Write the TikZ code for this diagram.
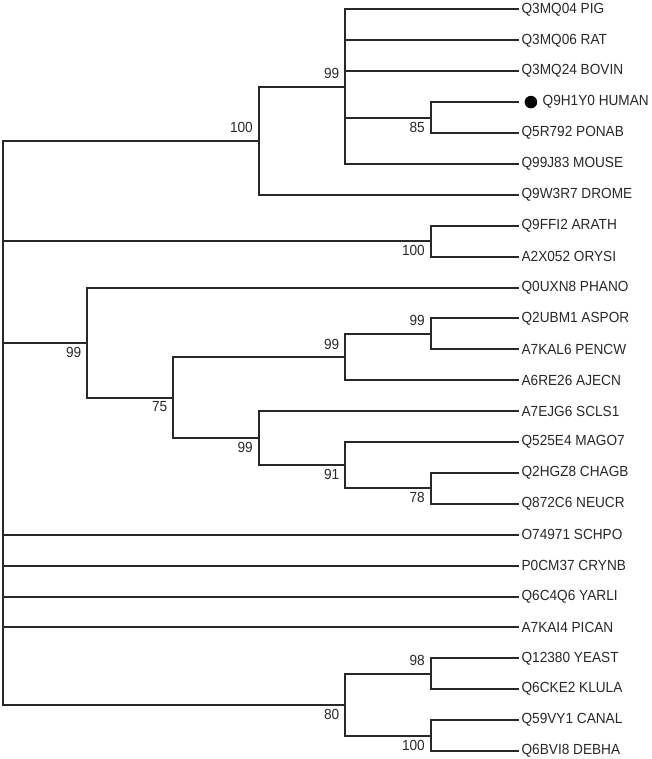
\documentclass[tikz,border=0pt]{standalone}
\usepackage{fontspec}
\setmainfont{Liberation Sans}[FakeStretch=0.93]
\usepackage{xcolor}
\usepackage{tikz}
\usetikzlibrary{positioning}
\definecolor{treeink}{RGB}{40, 40, 40}
\tikzset{
    br/.style  ={draw=treeink, line width=1.5pt, line cap=rect},
    tip/.style ={anchor=west, inner xsep=2.5pt, inner ysep=0pt,
                 font=\fontsize{11pt}{13pt}\selectfont, text=treeink},
    bsa/.style ={anchor=base east, inner sep=0pt, xshift=-4.1pt, yshift=6pt,
                 font=\fontsize{11pt}{13pt}\selectfont, text=treeink},
    bsb/.style ={anchor=north east, inner sep=0pt, xshift=-4.1pt, yshift=-3pt,
                 font=\fontsize{11pt}{13pt}\selectfont, text=treeink},
    dot/.style ={circle, fill=black, inner sep=0pt, minimum size=9.4pt}
}

\begin{document}
\begin{tikzpicture}[x=0.75pt, y=-0.75pt]
  \useasboundingbox (0,0) rectangle (652,759);

  % leaves
  \node[tip] (pig)   at (518,   9.4) {Q3MQ04 PIG};
  \node[tip] (rat)   at (518,  40.3) {Q3MQ06 RAT};
  \node[tip] (bovin) at (518,  71.2) {Q3MQ24 BOVIN};
  \coordinate (human) at (518, 102.1);
  \node[dot, right=4.8pt of human] (hdot) {};
  \node[tip, right=1.2pt of hdot] (humanlbl) {Q9H1Y0 HUMAN};
  \node[tip] (ponab) at (518, 133.0) {Q5R792 PONAB};
  \node[tip] (mouse) at (518, 163.9) {Q99J83 MOUSE};
  \node[tip] (drome) at (518, 194.8) {Q9W3R7 DROME};
  \node[tip] (arath) at (518, 225.7) {Q9FFI2 ARATH};
  \node[tip] (orysi) at (518, 256.6) {A2X052 ORYSI};
  \node[tip] (phano) at (518, 287.5) {Q0UXN8 PHANO};
  \node[tip] (aspor) at (518, 318.4) {Q2UBM1 ASPOR};
  \node[tip] (pencw) at (518, 349.3) {A7KAL6 PENCW};
  \node[tip] (ajecn) at (518, 380.2) {A6RE26 AJECN};
  \node[tip] (scls)  at (518, 411.1) {A7EJG6 SCLS1};
  \node[tip] (mago)  at (518, 442.0) {Q525E4 MAGO7};
  \node[tip] (chagb) at (518, 472.9) {Q2HGZ8 CHAGB};
  \node[tip] (neucr) at (518, 503.8) {Q872C6 NEUCR};
  \node[tip] (schpo) at (518, 534.7) {O74971 SCHPO};
  \node[tip] (crynb) at (518, 565.6) {P0CM37 CRYNB};
  \node[tip] (yarli) at (518, 596.5) {Q6C4Q6 YARLI};
  \node[tip] (pican) at (518, 627.4) {A7KAI4 PICAN};
  \node[tip] (yeast) at (518, 658.3) {Q12380 YEAST};
  \node[tip] (klula) at (518, 689.2) {Q6CKE2 KLULA};
  \node[tip] (canal) at (518, 720.1) {Q59VY1 CANAL};
  \node[tip] (debha) at (518, 751.0) {Q6BVI8 DEBHA};

  % inner nodes
  \coordinate (n85)   at (430.5, 117.55);
  \coordinate (n99a)  at (345,    86.65);
  \coordinate (n100a) at (258.5, 140.7);
  \coordinate (n100p) at (430.5, 241.15);
  \coordinate (n99c)  at (430.5, 333.85);
  \coordinate (n99d)  at (345,   357.0);
  \coordinate (n78)   at (430.5, 488.35);
  \coordinate (n91)   at (345,   465.2);
  \coordinate (n99e)  at (258.5, 438.15);
  \coordinate (n75)   at (173,   397.6);
  \coordinate (n99f)  at (87,    342.55);
  \coordinate (n98)   at (430.5, 673.75);
  \coordinate (n100y) at (430.5, 735.55);
  \coordinate (n80)   at (345,   704.65);
  \coordinate (root)  at (2.5,   422.7);

  % branches
  \draw[br] (n85) |- (human);   \draw[br] (n85) |- (ponab.west);
  \draw[br] (n99a) |- (pig.west);   \draw[br] (n99a) |- (rat.west);
  \draw[br] (n99a) |- (bovin.west); \draw[br] (n99a) |- (n85);
  \draw[br] (n99a) |- (mouse.west);
  \draw[br] (n100a) |- (n99a);  \draw[br] (n100a) |- (drome.west);
  \draw[br] (n100p) |- (arath.west); \draw[br] (n100p) |- (orysi.west);
  \draw[br] (n99c) |- (aspor.west);  \draw[br] (n99c) |- (pencw.west);
  \draw[br] (n99d) |- (n99c);   \draw[br] (n99d) |- (ajecn.west);
  \draw[br] (n78) |- (chagb.west);   \draw[br] (n78) |- (neucr.west);
  \draw[br] (n91) |- (mago.west);    \draw[br] (n91) |- (n78);
  \draw[br] (n99e) |- (scls.west);   \draw[br] (n99e) |- (n91);
  \draw[br] (n75) |- (n99d);    \draw[br] (n75) |- (n99e);
  \draw[br] (n99f) |- (phano.west);  \draw[br] (n99f) |- (n75);
  \draw[br] (n98) |- (yeast.west);   \draw[br] (n98) |- (klula.west);
  \draw[br] (n100y) |- (canal.west); \draw[br] (n100y) |- (debha.west);
  \draw[br] (n80) |- (n98);     \draw[br] (n80) |- (n100y);
  \draw[br] (root) |- (n100a);  \draw[br] (root) |- (n100p);
  \draw[br] (root) |- (n99f);   \draw[br] (root) |- (schpo.west);
  \draw[br] (root) |- (crynb.west); \draw[br] (root) |- (yarli.west);
  \draw[br] (root) |- (pican.west); \draw[br] (root) |- (n80);

  % bootstrap values
  \node[bsa] (b100a) at (n100a) {100};
  \node[bsa] (b99a)  at (n99a)  {99};
  \node[bsb] (b85)   at (n85)   {85};
  \node[bsb] (b100p) at (n100p) {100};
  \node[bsb] (b99f)  at (n99f)  {99};
  \node[bsa] (b99c)  at (n99c)  {99};
  \node[bsa] (b99d)  at (n99d)  {99};
  \node[bsb] (b75)   at (n75)   {75};
  \node[bsb] (b99e)  at (n99e)  {99};
  \node[bsb] (b91)   at (n91)   {91};
  \node[bsb] (b78)   at (n78)   {78};
  \node[bsa] (b98)   at (n98)   {98};
  \node[bsb] (b80)   at (n80)   {80};
  \node[bsb] (b100y) at (n100y) {100};
\end{tikzpicture}
\end{document}
